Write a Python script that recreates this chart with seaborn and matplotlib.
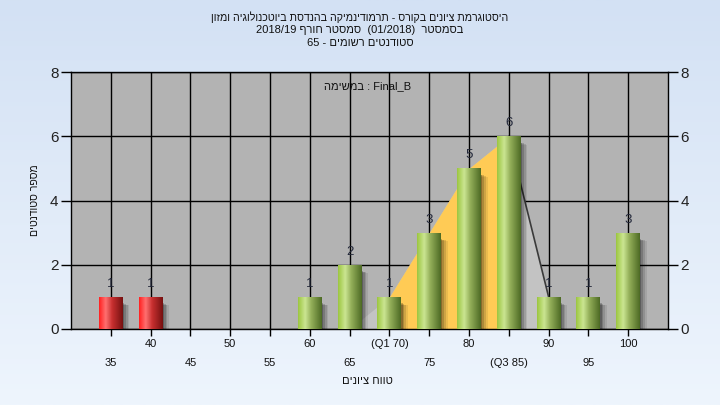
import numpy as np
import pandas as pd
import matplotlib
matplotlib.use("Agg")
import matplotlib.pyplot as plt
import seaborn as sns
from matplotlib.patches import Rectangle
from matplotlib.colors import LinearSegmentedColormap

# ---- data ----
grades = [35, 40, 45, 50, 55, 60, 65, 70, 75, 80, 85, 90, 95, 100]
counts = [1, 1, 0, 0, 0, 1, 2, 1, 3, 5, 6, 1, 1, 3]
status = ["fail", "fail", "fail", "fail", "fail", "pass", "pass", "pass",
          "pass", "pass", "pass", "pass", "pass", "pass"]
tick_labels = ["35", "40", "45", "50", "55", "60", "65", "(Q1 70)", "75", "80",
               "(Q3 85)", "90", "95", "100"]
poly_grades = [65, 70, 75, 80, 85, 90]
poly_values = [0, 1, 3, 5, 6, 1]
q1_grade, q3_grade = 70, 85

title_l1 = "היסטוגרמת ציונים בקורס - תרמודינמיקה בהנדסת ביוטכנולוגיה ומזון"
title_l2_words = ("2018/19", "סמסטר חורף", "(01/2018)", "בסמסטר")
title_l3 = ("65", "סטודנטים רשומים")
xlabel = "טווח ציונים"
ylabel = "מספר סטודנטים"
note = ("במשימה", "Final_B")


def rtl(s):
    return s[::-1]


sns.set_theme(style="white")
plt.rcParams["font.family"] = ["Liberation Sans", "DejaVu Sans"]

fig = plt.figure(figsize=(7.2, 4.05), dpi=100)

# background gradient
bg = fig.add_axes([0, 0, 1, 1], zorder=-10)
grad = np.linspace(0, 1, 256).reshape(-1, 1)
bg_cmap = LinearSegmentedColormap.from_list("bg", ["#d3e1f4", "#eef5fd"])
bg.imshow(grad, aspect="auto", cmap=bg_cmap, extent=[0, 1, 0, 1], origin="upper")
bg.axis("off")

ax = fig.add_axes([71 / 720, 1 - 329 / 405, (668 - 71) / 720, (329 - 72) / 405])
ax.set_facecolor("#b3b3b3")

df = pd.DataFrame({"grade": [str(g) for g in grades], "count": counts, "status": status})

idx = {g: i for i, g in enumerate(grades)}
px = [idx[g] for g in poly_grades]

# frequency-polygon area
ax.fill_between(px, 0, poly_values, color="#c3c3c3", lw=0, zorder=1)
mask = [(q1_grade <= g <= q3_grade) for g in poly_grades]
ax.fill_between(px, 0, poly_values, where=mask, color="#ffcb55", lw=0, zorder=1.1)
ax.plot(px[-2:], poly_values[-2:], color="#3a3a3a", lw=1.2, zorder=1.2)

sns.barplot(data=df, x="grade", y="count", hue="status",
            palette={"fail": "#e83030", "pass": "#98bf48"},
            dodge=False, width=0.6, legend=False, ax=ax, zorder=3,
            linewidth=0, saturation=1)

# cylinder shading + shadows
green_cmap = LinearSegmentedColormap.from_list(
    "g", [(0, "#9cc640"), (0.3, "#cbe592"), (0.55, "#95b05a"), (1, "#4d6a24")])
red_cmap = LinearSegmentedColormap.from_list(
    "r", [(0, "#ff2020"), (0.28, "#ff7070"), (0.55, "#c83030"), (1, "#761010")])
hgrad = np.linspace(0, 1, 128).reshape(1, -1)
patches = [p for p in ax.patches if isinstance(p, Rectangle) and p.get_height() > 0]
for p in patches:
    x0, w, h = p.get_x(), p.get_width(), p.get_height()
    for k, a in enumerate([0.22, 0.16, 0.12, 0.08]):
        off = 0.03 + 0.045 * k
        ax.add_patch(Rectangle((x0 + off, -0.06), w, h - 0.14 - 0.02 * k, color="black",
                               alpha=a, lw=0, zorder=2))
    red = p.get_facecolor()[0] > 0.8
    im = ax.imshow(hgrad, cmap=red_cmap if red else green_cmap, aspect="auto",
                   extent=[x0, x0 + w, 0, h], zorder=3.5)
    im.set_clip_path(p)

ax.set_xlim(-1, len(grades))
ax.set_ylim(0, 8)

# value labels
for i, c in enumerate(counts):
    if c > 0:
        ax.text(i, c + 0.22, str(c), ha="center", va="bottom", fontsize=9.5,
                color="#23283a", zorder=5)

# grid
ax.set_xticks(range(len(grades)))
ax.set_yticks([0, 2, 4, 6, 8])
ax.grid(True, color="black", lw=1)
ax.set_axisbelow(True)
for sp in ax.spines.values():
    sp.set_visible(True)
    sp.set_color("black")
    sp.set_linewidth(1)

ax.tick_params(axis="y", which="both", left=True, right=True, labelleft=True,
               labelright=True, length=7, width=1, color="black", labelsize=11,
               pad=2, labelcolor="#222222")
ax.tick_params(axis="x", bottom=True, length=5, width=1, color="black",
               labelbottom=False)

# two-row x tick labels
for i, lab in enumerate(tick_labels):
    ypos = -0.48 if i % 2 == 1 else -1.05
    ax.text(i, ypos, lab, ha="center", va="center", fontsize=8, color="#111111",
            transform=ax.transData, clip_on=False)

ax.set_xlabel("")
ax.set_ylabel("")
fig.text(367 / 720, 1 - 381 / 405, rtl(xlabel), ha="center", va="center", fontsize=8,
         color="#111111")
fig.text(35 / 720, 1 - 200 / 405, rtl(ylabel), ha="center", va="center", fontsize=7.6,
         rotation=90, color="#111111")

# titles
fig.text(360 / 720, 1 - 17 / 405, rtl(title_l1), ha="center", va="center", fontsize=7.7,
         color="#111111")
l2 = title_l2_words[0] + " " + rtl(title_l2_words[1]) + "  " + title_l2_words[2] + "  " + rtl(title_l2_words[3])
fig.text(360 / 720, 1 - 30 / 405, l2, ha="center", va="center", fontsize=8, color="#111111")
l3 = title_l3[0] + " - " + rtl(title_l3[1])
fig.text(360 / 720, 1 - 43 / 405, l3, ha="center", va="center", fontsize=8, color="#111111")

ax.text(6.46, 7.57, rtl(note[0]) + " : " + note[1], ha="center", va="center",
        fontsize=8, color="#111111", zorder=5)

fig.savefig("out.png", dpi=100)
